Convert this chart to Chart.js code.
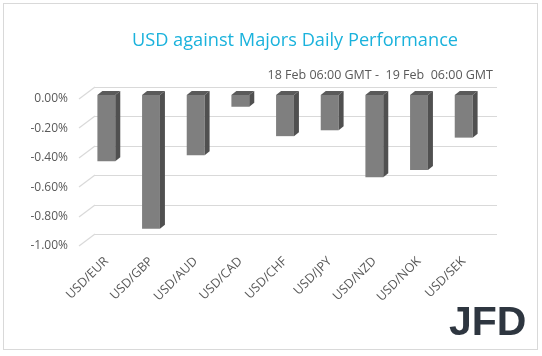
<!DOCTYPE html>
<html>
<head>
<meta charset="utf-8">
<script src="https://cdn.jsdelivr.net/npm/chart.js@4/dist/chart.umd.min.js"></script>
<style>
html,body{margin:0;padding:0;background:#fff;}
#wrap{width:542px;height:356px;position:relative;}
</style>
</head>
<body>
<div id="wrap"><canvas id="c" width="542" height="356"></canvas></div>
<script>
const categories = ['USD/EUR','USD/GBP','USD/AUD','USD/CAD','USD/CHF','USD/JPY','USD/NZD','USD/NOK','USD/SEK'];
const performance = [-0.45, -0.91, -0.41, -0.08, -0.28, -0.24, -0.56, -0.51, -0.29];
const yTicks = [0, -0.2, -0.4, -0.6, -0.8, -1.0];
const titleText = 'USD against Majors Daily Performance';
const subtitleText = '18 Feb 06:00 GMT -  19 Feb  06:00 GMT';
const logoText = 'JFD';

const FONT = '"Open Sans", "Noto Sans", sans-serif';

const decor = {
  id: 'decor',
  beforeDatasetsDraw(chart) {
    const ctx = chart.ctx;
    const y = chart.scales.y;
    const area = chart.chartArea;
    ctx.save();
    // frame
    ctx.strokeStyle = '#d9d9d9';
    ctx.lineWidth = 1;
    ctx.strokeRect(3.5, 3.5, 534, 346);
    // back-wall gridlines + left wall diagonals
    ctx.strokeStyle = '#d9d9d9';
    ctx.lineWidth = 1.2;
    yTicks.forEach(v => {
      const py = Math.round(y.getPixelForValue(v));
      ctx.beginPath();
      ctx.moveTo(area.left + 11, py - 8 + 0.5);
      ctx.lineTo(area.right + 11, py - 8 + 0.5);
      ctx.stroke();
      ctx.beginPath();
      ctx.moveTo(area.left - 5, py + 4);
      ctx.lineTo(area.left + 11, py - 8);
      ctx.stroke();
    });
    // title
    ctx.fillStyle = '#1ab2dc';
    ctx.font = '18.2px ' + FONT;
    ctx.textAlign = 'center';
    ctx.textBaseline = 'middle';
    ctx.fillText(titleText, 295, 41);
    ctx.fillStyle = '#595959';
    ctx.font = '12.5px ' + FONT;
    ctx.textAlign = 'right';
    ctx.fillText(subtitleText, 493, 75);
    // logo
    ctx.fillStyle = '#2e3640';
    ctx.font = 'bold 41px "Liberation Sans", Arial, sans-serif';
    ctx.textAlign = 'left';
    ctx.textBaseline = 'alphabetic';
    ctx.fillText(logoText, 449, 335);
    ctx.restore();
  },
  afterDatasetsDraw(chart) {
    const ctx = chart.ctx;
    const meta = chart.getDatasetMeta(0);
    const dx = 5, dy = 4;
    ctx.save();
    meta.data.forEach(bar => {
      const p = bar.getProps(['x','y','base','width'], true);
      const L = p.x - p.width / 2, R = p.x + p.width / 2;
      const top = Math.min(p.y, p.base), bot = Math.max(p.y, p.base);
      // top face
      ctx.fillStyle = '#5a5a5a';
      ctx.beginPath();
      ctx.moveTo(L, top);
      ctx.lineTo(L + dx, top - dy);
      ctx.lineTo(R + dx, top - dy);
      ctx.lineTo(R, top);
      ctx.closePath();
      ctx.fill();
      // side face
      ctx.fillStyle = '#505050';
      ctx.beginPath();
      ctx.moveTo(R, top);
      ctx.lineTo(R + dx, top - dy);
      ctx.lineTo(R + dx, bot - dy);
      ctx.lineTo(R, bot);
      ctx.closePath();
      ctx.fill();
    });
    ctx.restore();
  }
};

new Chart(document.getElementById('c'), {
  type: 'bar',
  data: {
    labels: categories,
    datasets: [{
      data: performance,
      backgroundColor: '#7f7f7f',
      borderWidth: 0,
      categoryPercentage: 1,
      barPercentage: 0.4
    }]
  },
  options: {
    responsive: false,
    animation: false,
    devicePixelRatio: 1,
    layout: { padding: { top: 95, right: 56, left: 0, bottom: 0 } },
    plugins: { legend: { display: false }, tooltip: { enabled: false }, title: { display: false } },
    scales: {
      x: {
        grid: { display: false, drawTicks: false },
        border: { display: false },
        ticks: {
          autoSkip: false, minRotation: 45, maxRotation: 45,
          color: '#595959', font: { family: FONT, size: 12.5 }, padding: 12
        },
        afterFit(s) { s.height = 114; }
      },
      y: {
        min: -1, max: 0,
        grid: { display: false, drawTicks: false },
        border: { display: false },
        ticks: {
          stepSize: 0.2,
          color: '#595959', font: { family: FONT, size: 12 },
          padding: 16, labelOffset: 4,
          callback: v => Number(v).toFixed(2) + '%'
        },
        afterFit(s) { s.width = 84; }
      }
    }
  },
  plugins: [decor]
});
</script>
</body>
</html>
